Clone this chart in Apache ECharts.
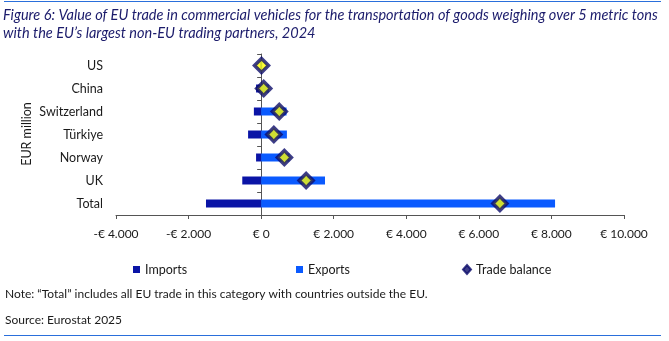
<!DOCTYPE html>
<html><head><meta charset="utf-8">
<script src="https://cdn.jsdelivr.net/npm/echarts@6/dist/echarts.min.js"></script>
<style>html,body{margin:0;padding:0;background:#fff}#c{width:669px;height:341px}</style>
</head><body><div id="c"></div>
<script>
const categories = ['Total','UK','Norway','Türkiye','Switzerland','China','US'];
const imports = [-1520, -520, -140, -360, -200, -140, -20];
const exports_ = [8100, 1760, 780, 710, 700, 210, 30];
const balance = [6580, 1240, 640, 350, 500, 70, 10];
const xTicks = {min:-4000, max:10000, interval:2000};
const axisTitle = 'EUR million';

function fmt(v){
  const a = Math.abs(v);
  const s = a >= 1000 ? Math.floor(a/1000) + '.' + String(a%1000).padStart(3,'0') : String(a);
  return (v < 0 ? '-€ ' : '€ ') + s;
}
const FONT = 'Lato';
const chart = echarts.init(document.getElementById('c'), null, {renderer:'canvas'});
const txt = '#1a1a1a';
chart.setOption({
  animation:false,
  textStyle:{fontFamily:FONT},
  grid:{left:116, right:45, top:54, bottom:126, containLabel:false},
  xAxis:{type:'value', min:xTicks.min, max:xTicks.max, interval:xTicks.interval,
    splitLine:{show:false},
    axisLine:{show:true, onZero:false, lineStyle:{color:'#555', width:1}},
    axisTick:{show:true, length:4, lineStyle:{color:'#555'}},
    axisLabel:{formatter:fmt, color:txt, fontSize:12, margin:13, fontFamily:FONT}},
  yAxis:[
    {type:'category', data:categories, position:'left',
     axisLine:{show:true, onZero:true, lineStyle:{color:'#555'}},
     axisTick:{show:true, length:4, lineStyle:{color:'#555'}},
     axisLabel:{show:false}},
    {type:'category', data:categories, position:'left',
     axisLine:{show:false, onZero:false}, axisTick:{show:false},
     axisLabel:{show:true, color:txt, fontSize:12.5, margin:13, fontFamily:FONT}}
  ],
  legend:[
    {data:[{name:'Imports', icon:'rect'}], left:128, top:258, itemWidth:7, itemHeight:7, itemGap:0,
     textStyle:{color:txt, fontSize:12.5, fontFamily:FONT}},
    {data:[{name:'Exports', icon:'rect'}], left:291, top:258, itemWidth:7, itemHeight:7,
     textStyle:{color:txt, fontSize:12.5, fontFamily:FONT}},
    {data:[{name:'Trade balance', icon:'diamond', itemStyle:{color:'#0c0c6c', borderColor:'#0c0c6c'}}], left:457, top:258, itemWidth:8, itemHeight:9,
     textStyle:{color:txt, fontSize:12.5, fontFamily:FONT}}
  ],
  graphic:[
    {type:'rect', shape:{x:4, y:1, width:657, height:1}, style:{fill:'#2a6fdb'}},
    {type:'text', left:3, top:6, style:{text:'Figure 6: Value of EU trade in commercial vehicles for the transportation of goods weighing over 5 metric tons\nwith the EU\u2019s largest non-EU trading partners, 2024',
      font:'italic 14.5px '+FONT, fill:'#1b1b6b', lineHeight:18}},
    {type:'text', x:27, y:134, rotation:Math.PI/2, style:{text:axisTitle, font:'12.5px '+FONT, fill:txt, align:'center', verticalAlign:'middle'}},
    {type:'text', left:5, top:288, style:{text:'Note: \u201cTotal\u201d includes all EU trade in this category with countries outside the EU.', font:'12px '+FONT, fill:txt}},
    {type:'text', left:5, top:314, style:{text:'Source: Eurostat 2025', font:'12px '+FONT, fill:txt}},
    {type:'rect', shape:{x:4, y:335, width:657, height:1}, style:{fill:'#2a6fdb'}}
  ],
  series:[
    {name:'Imports', type:'bar', yAxisIndex:0, data:imports, barWidth:8, barGap:'-100%',
     itemStyle:{color:'#0a14a6'}},
    {name:'Exports', type:'bar', yAxisIndex:0, data:exports_, barWidth:8, barGap:'-100%',
     itemStyle:{color:'#0a5aff'}},
    {name:'Trade balance', type:'scatter', yAxisIndex:0, data:balance, symbol:'diamond', symbolSize:[14,14],
     itemStyle:{color:'#ffff00', borderColor:'#0c0c6c', borderWidth:3.5}, z:5}
  ]
});
</script></body></html>
